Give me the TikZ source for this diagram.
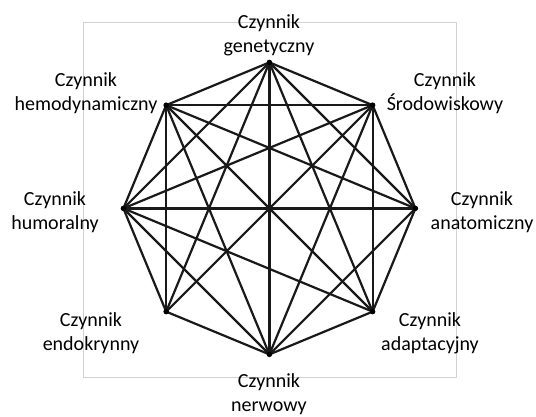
\documentclass[tikz,border=0pt]{standalone}
\usepackage{fontspec}
\setmainfont{Carlito}
\begin{document}
\begin{tikzpicture}[x=1pt,y=-1pt,
  edge/.style={line width=2.2pt,black!90,line cap=round},
  vdot/.style={circle,fill=black,inner sep=0pt,minimum size=5.5pt},
  lbl/.style={align=center,font=\fontsize{20}{24}\selectfont,inner sep=0pt}]
\useasboundingbox (0,0) rectangle (536,416);
\draw[gray!35,line width=1pt] (83,22) rectangle (456,377);
\def\cx{269.4}\def\cy{208.4}\def\r{146}
\coordinate (T)  at (\cx,\cy-\r);
\coordinate (S)  at ({\cx+\r*cos(45)},{\cy-\r*sin(45)});
\coordinate (A)  at (\cx+\r,\cy);
\coordinate (Ad) at ({\cx+\r*cos(45)},{\cy+\r*sin(45)});
\coordinate (N)  at (\cx,\cy+\r);
\coordinate (E)  at ({\cx-\r*cos(45)},{\cy+\r*sin(45)});
\coordinate (H)  at (\cx-\r,\cy);
\coordinate (HD) at ({\cx-\r*cos(45)},{\cy-\r*sin(45)});
\foreach \a/\b in {T/S,T/A,T/Ad,T/N,T/E,T/H,T/HD,
  S/A,S/Ad,S/N,S/E,S/H,S/HD,
  A/Ad,A/N,A/H,A/HD,
  Ad/N,Ad/H,Ad/HD,
  N/E,N/H,N/HD,
  E/H,E/HD,
  H/HD}
  \draw[edge] (\a) -- (\b);
\foreach \p in {T,S,A,Ad,N,E,H,HD} \node[vdot] at (\p) {};
\node[lbl] (lT)  at (269,35)  {Czynnik\\genetyczny};
\node[lbl] (lHD) at (86,93)   {Czynnik\\hemodynamiczny};
\node[lbl] (lS)  at (445,93)  {Czynnik\\Środowiskowy};
\node[lbl] (lH)  at (55,212)  {Czynnik\\humoralny};
\node[lbl] (lA)  at (482,212) {Czynnik\\anatomiczny};
\node[lbl] (lE)  at (91,333)  {Czynnik\\endokrynny};
\node[lbl] (lAd) at (430,333) {Czynnik\\adaptacyjny};
\node[lbl] (lN)  at (269,394) {Czynnik\\nerwowy};
\end{tikzpicture}
\end{document}
